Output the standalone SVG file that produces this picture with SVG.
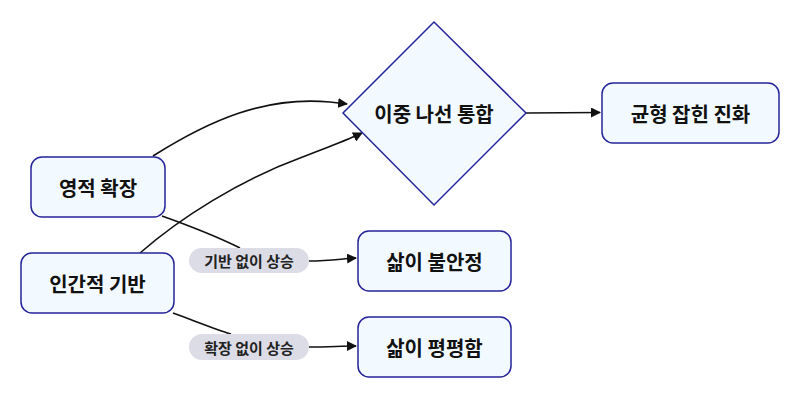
<svg xmlns="http://www.w3.org/2000/svg" width="800" height="400" viewBox="0 0 800 400">
<defs>
<style>
.node rect, .node polygon { fill: #f3faff; stroke: #25259a; stroke-width: 1.5; }
.nt { font-family: "Noto Sans CJK KR", "Noto Sans", sans-serif; font-size: 20px; font-weight: 700; fill: #111; text-anchor: middle; dominant-baseline: central; }
.edge { fill: none; stroke: #111; stroke-width: 1.6; }
.lbl rect { fill: #dcdce6; stroke: none; }
.lt { font-family: "Noto Sans CJK KR", "Noto Sans", sans-serif; font-size: 15px; font-weight: 700; fill: #222; text-anchor: middle; dominant-baseline: central; }
</style>
<marker id="ah" viewBox="0 0 10 10" refX="9" refY="5" markerWidth="10" markerHeight="10" markerUnits="userSpaceOnUse" orient="auto">
<path d="M0,0 L10,5 L0,10 z" fill="#111"/>
</marker>
</defs>
<rect width="800" height="400" fill="#fff"/>
<g id="connectors">
<path class="edge" d="M153,156 C210,120 265,96 330,102 L347,104" marker-end="url(#ah)"/>
<path class="edge" d="M140,253 C180,218 240,180 300,158 C330,146 348,140 362,133" marker-end="url(#ah)"/>
<path class="edge" d="M526,113 L600,112.5" marker-end="url(#ah)"/>
<path class="edge" d="M162,216 C190,226 220,238 240,248"/>
<path class="edge" d="M309,261 C330,261 340,259 356,258" marker-end="url(#ah)"/>
<path class="edge" d="M173,313 C195,321 215,329 231,334"/>
<path class="edge" d="M309,347 C330,347 340,346 356,346" marker-end="url(#ah)"/>
</g>
<g id="lbl1" class="lbl"><rect x="189" y="248" width="120" height="25" rx="12.5"/><text class="lt" x="249" y="260.5">기반 없이 상승</text></g>
<g id="lbl2" class="lbl"><rect x="189" y="334" width="120" height="26" rx="13"/><text class="lt" x="249" y="347">확장 없이 상승</text></g>
<g id="n1" class="node"><rect x="31" y="157" width="134" height="60" rx="11"/><text class="nt" x="98" y="187">영적 확장</text></g>
<g id="n2" class="node"><rect x="21" y="253" width="153" height="60" rx="11"/><text class="nt" x="97.5" y="283">인간적 기반</text></g>
<g id="n3" class="node"><polygon points="434,22 526,113 434,205 343,113"/><text class="nt" x="434" y="113">이중 나선 통합</text></g>
<g id="n4" class="node"><rect x="602" y="83" width="177" height="60" rx="11"/><text class="nt" x="690.5" y="113">균형 잡힌 진화</text></g>
<g id="n5" class="node"><rect x="358" y="231" width="153" height="60" rx="11"/><text class="nt" x="434.5" y="261">삶이 불안정</text></g>
<g id="n6" class="node"><rect x="358" y="317" width="153" height="60" rx="11"/><text class="nt" x="434.5" y="347">삶이 평평함</text></g>
</svg>
